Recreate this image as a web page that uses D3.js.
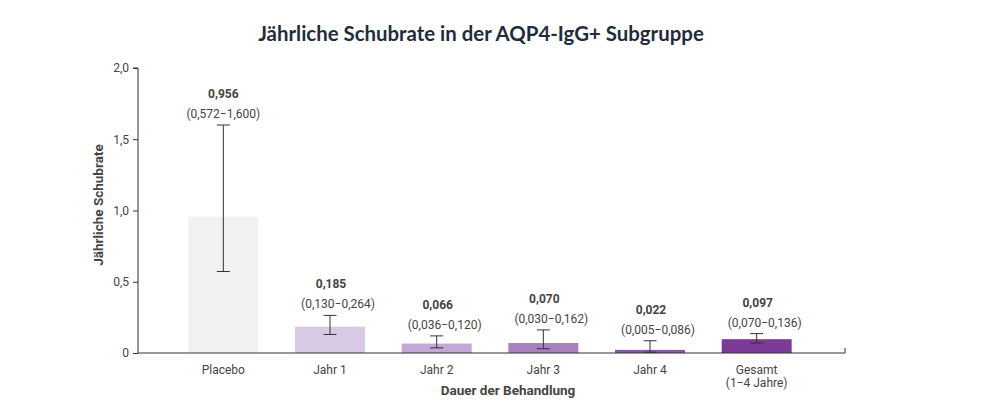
<!DOCTYPE html>
<html><head><meta charset="utf-8">
<script src="https://cdn.jsdelivr.net/npm/d3@7"></script>
<style>
html,body{margin:0;padding:0;background:#fff;}
svg{display:block;}
text{font-family:Roboto, "Liberation Sans", sans-serif;}
</style></head>
<body>
<svg id="c" width="1008" height="408"></svg>
<script>
const categories = ["Placebo", "Jahr 1", "Jahr 2", "Jahr 3", "Jahr 4", "Gesamt\n(1\u22124 Jahre)"];
const rates = [0.956, 0.185, 0.066, 0.070, 0.022, 0.097];
const ciLow = [0.572, 0.130, 0.036, 0.030, 0.005, 0.070];
const ciHigh = [1.600, 0.264, 0.120, 0.162, 0.086, 0.136];
const barColors = ["#f1f1f3", "#d8c9e4", "#c3a7d6", "#a880c0", "#8d56a9", "#7d3b98"];
const yTicks = [0, 0.5, 1.0, 1.5, 2.0];

const svg = d3.select("#c");
const x0 = 138, x1 = 845, yBase = 353, yTop = 68;
const x = d3.scaleBand().domain(categories).range([170, 810]).paddingInner(0.344).paddingOuter(0.172);
const y = d3.scaleLinear().domain([0, 2]).range([yBase, yTop]);
const fmt = v => v === 0 ? "0" : d3.format(".1f")(v).replace(".", ",");
const fmt3 = v => d3.format(".3f")(v).replace(".", ",");

svg.append("text").attr("x", 481).attr("y", 41).attr("text-anchor", "middle")
  .style("font-family", "Lato, sans-serif").style("font-weight", 700).style("font-size", "20.4px")
  .attr("fill", "#1f2c3c").text("Jährliche Schubrate in der AQP4-IgG+ Subgruppe");

// bars
svg.selectAll("rect.bar").data(categories).join("rect")
  .attr("x", d => x(d)).attr("width", x.bandwidth())
  .attr("y", (d, i) => y(rates[i])).attr("height", (d, i) => yBase - y(rates[i]))
  .attr("fill", (d, i) => barColors[i]);

// y axis
const yAxis = d3.axisLeft(y).tickValues(yTicks).tickFormat(fmt).tickSize(5).tickPadding(4);
const ga = svg.append("g").attr("transform", `translate(${x0},0)`).call(yAxis);
ga.select(".domain").attr("stroke", "#333").attr("d", `M-5,${yTop}H0V${yBase}`);
ga.selectAll(".tick line").attr("stroke", "#333");
ga.selectAll(".tick text").attr("fill", "#444").style("font-size", "12px").style("font-family", "Roboto");

// x axis
svg.append("line").attr("x1", x0).attr("x2", x1).attr("y1", yBase).attr("y2", yBase).attr("stroke", "#333");
svg.append("line").attr("x1", x1).attr("x2", x1).attr("y1", yBase).attr("y2", yBase - 5).attr("stroke", "#333");

// error bars
const eb = svg.append("g").attr("stroke", "#333").attr("stroke-width", 1);
categories.forEach((c, i) => {
  const cx = x(c) + x.bandwidth() / 2;
  eb.append("line").attr("x1", cx).attr("x2", cx).attr("y1", y(ciLow[i])).attr("y2", y(ciHigh[i]));
  eb.append("line").attr("x1", cx - 6.5).attr("x2", cx + 6.5).attr("y1", y(ciLow[i])).attr("y2", y(ciLow[i]));
  eb.append("line").attr("x1", cx - 6.5).attr("x2", cx + 6.5).attr("y1", y(ciHigh[i])).attr("y2", y(ciHigh[i]));
  svg.append("text").attr("x", cx + (i > 0 ? 1 : 0)).attr("y", y(ciHigh[i]) - 27).attr("text-anchor", "middle")
    .style("font-size", "12px").style("font-weight", 700).attr("fill", "#444").text(fmt3(rates[i]));
  svg.append("text").attr("x", cx + (i > 0 ? 8 : 0)).attr("y", y(ciHigh[i]) - 7).attr("text-anchor", "middle")
    .style("font-size", "12px").attr("fill", "#444").text("(" + fmt3(ciLow[i]) + "\u2212" + fmt3(ciHigh[i]) + ")");
  const lines = c.split("\n");
  lines.forEach((l, j) => {
    svg.append("text").attr("x", cx).attr("y", 374 + j * 13).attr("text-anchor", "middle")
      .style("font-size", "12px").attr("fill", "#444").text(l);
  });
});

svg.append("text").attr("x", 508).attr("y", 395).attr("text-anchor", "middle")
  .style("font-size", "13.5px").style("font-weight", 700).attr("fill", "#444").text("Dauer der Behandlung");
svg.append("text").attr("transform", "translate(103,205) rotate(-90)").attr("text-anchor", "middle")
  .style("font-size", "13.5px").style("font-weight", 700).attr("fill", "#444").text("Jährliche Schubrate");
</script>
</body></html>
